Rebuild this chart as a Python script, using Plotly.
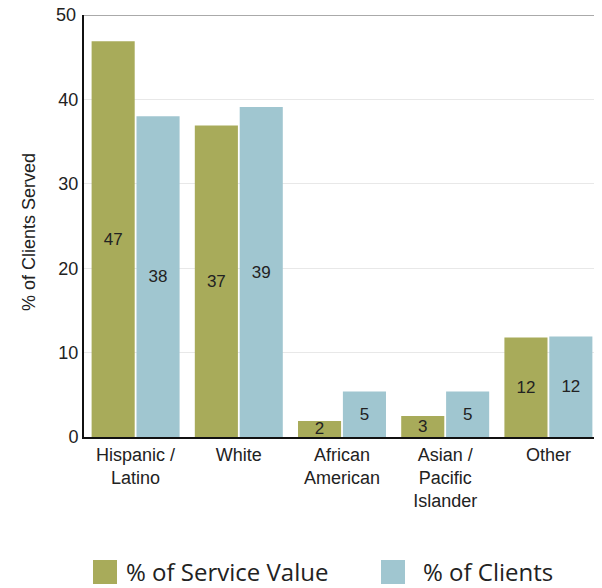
import plotly.graph_objects as go

categories = ["Hispanic /<br>Latino", "White", "African<br>American", "Asian /<br>Pacific<br>Islander", "Other"]
service_value = [46.9, 36.9, 1.9, 2.5, 11.8]
clients = [38.0, 39.1, 5.4, 5.4, 11.9]
service_labels = ["47", "37", "2", "3", "12"]
client_labels = ["38", "39", "5", "5", "12"]
series_names = ["% of Service Value", "% of Clients"]
y_ticks = [0, 10, 20, 30, 40, 50]

green = "#A8AB5A"
blue = "#A0C6D0"

# page has an 8px body margin; work in page pixels, convert to figure pixels
OFF = 8
W, H = 602 - OFF, 588 - OFF
plot_left, plot_right, plot_top, plot_bottom = 84, 600, 15, 437
L = plot_left - OFF
R = W - (plot_right - OFF)
T = plot_top - OFF
B = H - (plot_bottom - OFF)
pw, ph = W - L - R, H - T - B

def px(x):
    return (x - plot_left) / pw

def py(y):
    return (plot_bottom - y) / ph

fig = go.Figure()
for vals, labels, color, name in [(service_value, service_labels, green, series_names[0]),
                                   (clients, client_labels, blue, series_names[1])]:
    fig.add_trace(go.Bar(x=categories, y=vals, name=name,
                         marker_color=color, marker_line_width=0,
                         text=labels, textposition="inside", textangle=0,
                         insidetextanchor="middle", constraintext="none",
                         textfont=dict(color="#222", size=17, family="Liberation Sans")))

fig.update_layout(
    width=W, height=H,
    margin=dict(l=L, r=R, t=T, b=B, autoexpand=False),
    barmode="group", bargap=0.13, bargroupgap=0.04,
    plot_bgcolor="white", paper_bgcolor="white",
    font=dict(family="Liberation Sans", size=18, color="#222"),
    showlegend=False,
    yaxis=dict(range=[0, 50], tickvals=y_ticks[:-1], showgrid=True, gridcolor="#e8e8e8",
               showline=True, linecolor="#111", linewidth=2, ticks="",
               tickfont=dict(size=18), zeroline=False, automargin=False),
    xaxis=dict(showline=True, linecolor="#111", linewidth=2, tickfont=dict(size=18),
               automargin=False),
)
fig.add_shape(type="line", xref="paper", yref="y", x0=0, x1=1, y0=y_ticks[-1], y1=y_ticks[-1],
              line=dict(color="#aaa", width=2))
# top tick label (would be clipped as a regular tick label at the figure edge)
fig.add_annotation(text=str(y_ticks[-1]), xref="paper", yref="y", x=0, y=y_ticks[-1],
                   xanchor="right", yanchor="middle", xshift=-6, showarrow=False,
                   font=dict(size=18, family="Liberation Sans", color="#222"))

# y axis title
fig.add_annotation(text="% of Clients Served", xref="paper", yref="paper",
                   x=px(17), y=py(232), textangle=-90, showarrow=False,
                   font=dict(size=18, family="Liberation Sans", color="#222"))

# custom legend
legend_items = [(series_names[0], green, 93, 124), (series_names[1], blue, 381, 421)]
for name, color, sx, tx in legend_items:
    fig.add_shape(type="rect", xref="paper", yref="paper",
                  x0=px(sx), x1=px(sx + 24), y0=py(560), y1=py(584),
                  fillcolor=color, line_width=0)
    fig.add_annotation(text=name, xref="paper", yref="paper", x=px(tx), y=py(571),
                       xanchor="left", yanchor="middle", showarrow=False,
                       font=dict(size=24, family="Open Sans", color="#222"))

fig.write_html("out.html")
